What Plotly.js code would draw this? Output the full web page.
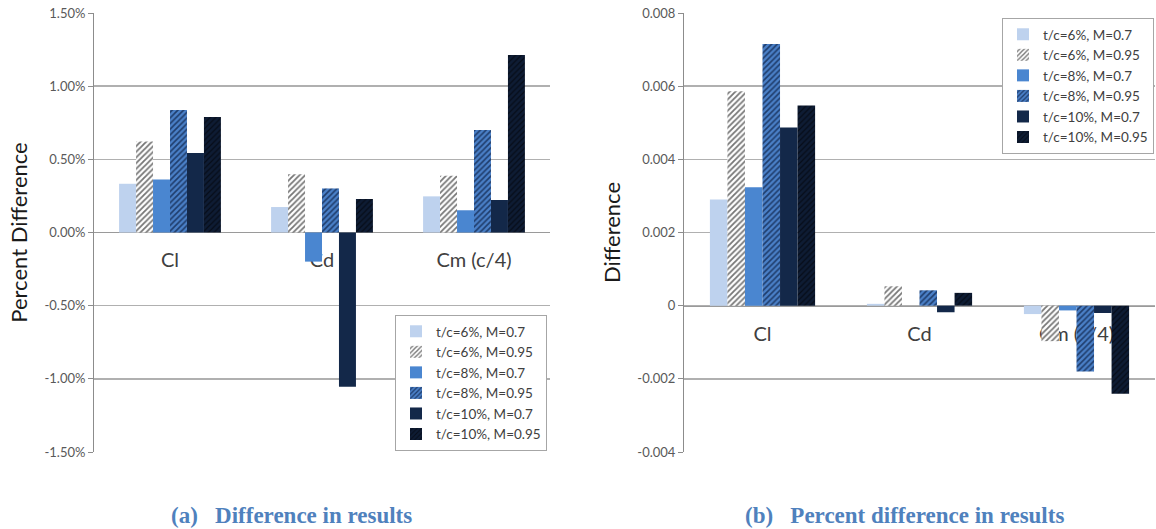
<!DOCTYPE html>
<html>
<head>
<meta charset="utf-8">
<script src="https://cdn.plot.ly/plotly-3.0.1.min.js"></script>
<style>html,body{margin:0;padding:0;background:#fff}#chart{width:1156px;height:529px}</style>
</head>
<body>
<div id="chart"></div>
<script>
const categories = ["Cl", "Cd", "Cm (c/4)"];
const seriesNames = ["t/c=6%, M=0.7", "t/c=6%, M=0.95", "t/c=8%, M=0.7", "t/c=8%, M=0.95", "t/c=10%, M=0.7", "t/c=10%, M=0.95"];

// (a) percent difference, in percent
const pct_tc6_M07  = [0.333, 0.174, 0.247];
const pct_tc6_M095 = [0.622, 0.398, 0.387];
const pct_tc8_M07  = [0.362, -0.199, 0.152];
const pct_tc8_M095 = [0.837, 0.301, 0.701];
const pct_tc10_M07 = [0.543, -1.054, 0.222];
const pct_tc10_M095= [0.790, 0.229, 1.213];

// (b) absolute difference
const diff_tc6_M07  = [0.00290, 0.00005, -0.00023];
const diff_tc6_M095 = [0.00586, 0.00053, -0.00097];
const diff_tc8_M07  = [0.00324, 0.00000, -0.00013];
const diff_tc8_M095 = [0.00715, 0.00042, -0.00180];
const diff_tc10_M07 = [0.00487, -0.00018, -0.00020];
const diff_tc10_M095= [0.00547, 0.00035, -0.00241];

const leftTickVals = [-1.5, -1.0, -0.5, 0, 0.5, 1.0, 1.5];
const leftTickText = ["-1.50%", "-1.00%", "-0.50%", "0.00%", "0.50%", "1.00%", "1.50%"];
const rightTickVals = [-0.004, -0.002, 0, 0.002, 0.004, 0.006, 0.008];
const rightTickText = ["-0.004", "-0.002", "0", "0.002", "0.004", "0.006", "0.008"];

const captionA = "(a)\u00a0\u00a0\u00a0Difference in results";
const captionB = "(b)\u00a0\u00a0\u00a0Percent difference in results";

const styles = [
  {color: "#bed2ee"},
  {color: "#ffffff", pattern: {shape: "/", fgcolor: "#777777", bgcolor: "#ffffff", size: 4, solidity: 0.45}},
  {color: "#4a86d0"},
  {color: "#4a7fc6", pattern: {shape: "/", fgcolor: "#1f3d6c", bgcolor: "#4a80c8", size: 4, solidity: 0.4}},
  {color: "#132849"},
  {color: "#0c172c", pattern: {shape: "/", fgcolor: "#060c18", bgcolor: "#0e1c34", size: 4, solidity: 0.3}}
];

const leftSeries = [pct_tc6_M07, pct_tc6_M095, pct_tc8_M07, pct_tc8_M095, pct_tc10_M07, pct_tc10_M095];
const rightSeries = [diff_tc6_M07, diff_tc6_M095, diff_tc8_M07, diff_tc8_M095, diff_tc10_M07, diff_tc10_M095];

const traces = [];
leftSeries.forEach((vals, i) => {
  traces.push({type: "bar", x: categories, y: vals, name: seriesNames[i], xaxis: "x", yaxis: "y",
    legend: "legend", marker: Object.assign({line: {width: 0}}, styles[i]), hoverinfo: "skip"});
});
rightSeries.forEach((vals, i) => {
  traces.push({type: "bar", x: categories, y: vals, name: seriesNames[i], xaxis: "x2", yaxis: "y2",
    legend: "legend2", marker: Object.assign({line: {width: 0}}, styles[i]), hoverinfo: "skip"});
});

const W = 1156, H = 529;
const fy = px => (H - px) / H;
const fx = px => px / W;
const baseFont = "Lato, 'Open Sans', sans-serif";

const yCommon = {
  showgrid: true, gridcolor: "#b0b0b0", gridwidth: 1.4,
  zeroline: false, showline: true, linecolor: "#8c8c8c", linewidth: 1,
  ticks: "outside", ticklen: 5, tickcolor: "#8c8c8c",
  tickfont: {family: baseFont, size: 13, color: "#595959"},
  domain: [fy(452), fy(13)], automargin: false
};
const xCommon = {
  type: "category", showgrid: false, zeroline: false, showline: true, linecolor: "#9a9a9a", linewidth: 1.4,
  ticks: "", tickfont: {family: baseFont, size: 20, color: "#404040"}, ticklabelstandoff: 10,
  anchor: "free", automargin: false, layer: "below traces"
};
const legendCommon = {
  bgcolor: "#ffffff", bordercolor: "#a6a6a6", borderwidth: 1,
  font: {family: baseFont, size: 13.5, color: "#404040"},
  xanchor: "right", yanchor: "top", itemwidth: 30, traceorder: "normal"
};

const layout = {
  width: W, height: H,
  margin: {l: 0, r: 0, t: 0, b: 0},
  paper_bgcolor: "#ffffff", plot_bgcolor: "rgba(0,0,0,0)",
  barmode: "group", bargap: 0.33, bargroupgap: 0,
  showlegend: true,
  xaxis: Object.assign({}, xCommon, {domain: [fx(94), fx(550)], position: fy(232)}),
  yaxis: Object.assign({}, yCommon, {anchor: "x", range: [-1.5, 1.5], tickvals: leftTickVals, ticktext: leftTickText,
    title: {text: "Percent Difference", font: {family: baseFont, size: 22, color: "#1a1a1a"}, standoff: 10}}),
  xaxis2: Object.assign({}, xCommon, {domain: [fx(684), fx(1155)], position: fy(306)}),
  yaxis2: Object.assign({}, yCommon, {anchor: "x2", range: [-0.004, 0.008], tickvals: rightTickVals, ticktext: rightTickText,
    title: {text: "Difference", font: {family: baseFont, size: 22, color: "#1a1a1a"}, standoff: 10}}),
  legend: Object.assign({}, legendCommon, {x: fx(547), y: fy(315)}),
  legend2: Object.assign({}, legendCommon, {x: fx(1154), y: fy(18)}),
  annotations: [
    {text: captionA, xref: "paper", yref: "paper", x: fx(291), y: fy(515), xanchor: "center", yanchor: "middle",
     showarrow: false, font: {family: "'Liberation Serif', 'DejaVu Serif', serif", size: 23, color: "#4f81bd", weight: "bold"}},
    {text: captionB, xref: "paper", yref: "paper", x: fx(905), y: fy(515), xanchor: "center", yanchor: "middle",
     showarrow: false, font: {family: "'Liberation Serif', 'DejaVu Serif', serif", size: 23, color: "#4f81bd", weight: "bold"}}
  ]
};

Plotly.newPlot("chart", traces, layout, {staticPlot: true, displayModeBar: false});
</script>
</body>
</html>
